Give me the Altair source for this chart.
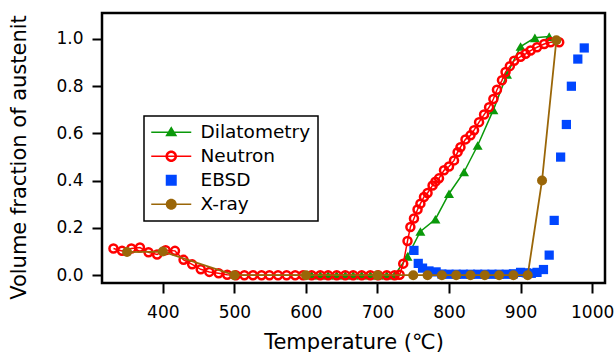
import altair as alt
import pandas as pd

# ---------------- data ----------------
neutron_T = [331, 343, 356, 368, 380, 392, 404, 417, 429, 441, 453, 465, 478, 490,
             502, 514, 526, 538, 549, 561, 573, 585, 596, 608, 620, 631, 643, 655,
             666, 678, 690, 701, 713, 724, 731, 736, 742, 746, 751, 756, 760, 765,
             770, 777, 781, 786, 793, 800, 807, 812, 816, 823, 830, 835, 842, 849,
             856, 862, 867, 874, 879, 885, 891, 900, 907, 914, 923, 933, 942, 954]
neutron_V = [0.113, 0.103, 0.113, 0.117, 0.097, 0.088, 0.106, 0.103, 0.065, 0.046, 0.025, 0.014, 0.008, 0.002,
             0.0, 0.0, 0.0, 0.0, 0.0, 0.0, 0.0, 0.0, 0.0, 0.0, 0.0, 0.0, 0.0, 0.0,
             0.0, 0.0, 0.0, 0.0, 0.0, 0.0, 0.002, 0.049, 0.145, 0.204, 0.240, 0.278, 0.303, 0.331,
             0.348, 0.380, 0.396, 0.410, 0.444, 0.460, 0.486, 0.521, 0.542, 0.575, 0.592, 0.614, 0.648, 0.680,
             0.711, 0.746, 0.785, 0.825, 0.860, 0.885, 0.908, 0.925, 0.937, 0.951, 0.965, 0.979, 0.986, 0.986]

dil_T = [608, 620, 631, 643, 655, 666, 678, 690, 701, 713, 724, 742, 760, 781, 800, 821, 840, 862, 881, 900, 920, 940]
dil_V = [0.0, 0.0, 0.0, 0.0, 0.0, 0.0, 0.0, 0.0, 0.0, 0.0, 0.0, 0.080, 0.185, 0.237, 0.345, 0.437, 0.549, 0.700, 0.850, 0.968, 1.005, 1.010]

ebsd_T = [751, 757, 763, 772, 782, 790, 800, 810, 820, 830, 840, 850, 860, 870, 880, 890, 900, 908, 915, 923, 932, 940, 947, 956, 964, 971, 980, 989]
ebsd_V = [0.105, 0.050, 0.030, 0.018, 0.014, 0.005, 0.004, 0.004, 0.004, 0.004, 0.004, 0.004, 0.004, 0.004, 0.004, 0.006, 0.012, 0.010, 0.008, 0.012, 0.024, 0.085, 0.232, 0.500, 0.638, 0.800, 0.915, 0.962]

xray_T = [350, 400, 500, 600, 700, 750, 770, 790, 810, 830, 850, 870, 890, 910, 930, 950]
xray_V = [0.098, 0.100, 0.0, 0.0, 0.0, 0.0, 0.0, 0.0, 0.0, 0.0, 0.0, 0.0, 0.0, 0.0, 0.401, 0.995]

series_names = ["Dilatometry", "Neutron", "EBSD", "X-ray"]
x_ticks = [400, 500, 600, 700, 800, 900, 1000]
y_ticks = [0.0, 0.2, 0.4, 0.6, 0.8, 1.0]

# ---------------- styling ----------------
GREEN = "#0a990a"
RED = "#ff0000"
BLUE = "#0046ff"
BROWN = "#9a6608"
FONT = "DejaVu Sans"

# legend glyphs: line + marker, drawn as filled paths (unit = 5 px)
LINE = "M-4,-0.15 L4,-0.15 L4,0.15 L-4,0.15 Z"
leg_paths = [
    LINE + " M0,-1.2 L1.2,0.8 L-1.2,0.8 Z",
    LINE + " M-1.16,0 A1.16,1.16 0 1 1 1.16,0 A1.16,1.16 0 1 1 -1.16,0 Z"
         + " M-0.66,0 A0.66,0.66 0 1 0 0.66,0 A0.66,0.66 0 1 0 -0.66,0 Z",
    "M-1.1,-1.1 L1.1,-1.1 L1.1,1.1 L-1.1,1.1 Z",
    LINE + " M-1.1,0 A1.1,1.1 0 1 1 1.1,0 A1.1,1.1 0 1 1 -1.1,0 Z",
]

def frame(T, V):
    return pd.DataFrame({"T": T, "V": V})

x_enc = alt.X("T:Q",
              scale=alt.Scale(domain=[315, 1018], nice=False, zero=False),
              axis=alt.Axis(values=x_ticks, title="Temperature (℃)", format="d",
                            tickSize=10, labelPadding=11, titleY=65, titleBaseline="alphabetic"))
y_enc = alt.Y("V:Q",
              scale=alt.Scale(domain=[-0.033, 1.11], nice=False, zero=False),
              axis=alt.Axis(values=y_ticks, format=".1f", title="Volume fraction of austenit",
                            tickSize=10, labelPadding=9, titleX=-77, titleY=144,
                            titleBaseline="alphabetic", titleAngle=270))

dil = frame(dil_T, dil_V)
neu = frame(neutron_T, neutron_V)
ebs = frame(ebsd_T, ebsd_V)
xr = frame(xray_T, xray_V)

dil_line = alt.Chart(dil).mark_line(color=GREEN, strokeWidth=1.5).encode(x=x_enc, y=y_enc)
dil_pts = alt.Chart(dil).mark_point(shape="triangle-up", filled=True, color=GREEN, size=100, opacity=1).encode(x=x_enc, y=y_enc)
neu_line = alt.Chart(neu).mark_line(color=RED, strokeWidth=1.5).encode(x=x_enc, y=y_enc)
neu_pts = alt.Chart(neu).mark_point(shape="circle", filled=False, color=RED, size=64, strokeWidth=2.5, opacity=1).encode(x=x_enc, y=y_enc)
ebs_pts = alt.Chart(ebs).mark_point(shape="square", filled=True, color=BLUE, size=85, opacity=1).encode(x=x_enc, y=y_enc)
xr_line = alt.Chart(xr).mark_line(color=BROWN, strokeWidth=1.8).encode(x=x_enc, y=y_enc)
xr_pts = alt.Chart(xr).mark_circle(color=BROWN, size=100, opacity=1).encode(x=x_enc, y=y_enc)

leg = alt.Legend(title=None, orient="none", legendX=42, legendY=103, padding=7,
                 strokeColor="black", fillColor="white",
                 labelFont=FONT, labelFontSize=18.5, labelColor="black",
                 symbolSize=100, symbolStrokeWidth=0, symbolOffset=11, labelOffset=20,
                 rowPadding=5, symbolOpacity=1)
legend_layer = alt.Chart(pd.DataFrame({"series": series_names})).mark_point(
    filled=True, opacity=0).encode(
    color=alt.Color("series:N", scale=alt.Scale(domain=series_names, range=[GREEN, RED, BLUE, BROWN]), legend=leg),
    shape=alt.Shape("series:N", scale=alt.Scale(domain=series_names, range=leg_paths), legend=leg),
)

chart = alt.layer(dil_line, dil_pts, neu_line, neu_pts, ebs_pts, xr_line, xr_pts, legend_layer).properties(
    width=503, height=270,
    autosize=alt.AutoSizeParams(type="none"),
    padding={"left": 102, "top": 13, "right": 10, "bottom": 69},
    background="white",
).configure_view(stroke="black", strokeWidth=2.5).configure_axis(
    grid=False, domain=False, tickColor="black", tickWidth=2,
    labelFont=FONT, labelFontSize=17, labelColor="black",
    titleFont=FONT, titleFontSize=21, titleFontWeight="normal", titleColor="black",
).configure_legend(strokeWidth=1.5)

chart.save("out.html", embed_options={"renderer": "svg", "actions": False})
